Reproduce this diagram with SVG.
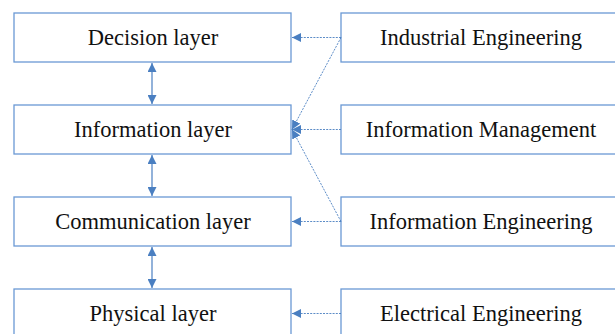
<svg xmlns="http://www.w3.org/2000/svg" width="615" height="334" viewBox="0 0 615 334">
  <style>
    .box { fill: #ffffff; stroke: #6a99d4; stroke-width: 1.3; }
    .label { font-family: "Liberation Serif", "Times New Roman", serif; font-size: 22.5px; fill: #111111; text-anchor: middle; }
    .solid { stroke: #4a7fc1; stroke-width: 1.2; fill: none; }
    .dotted { stroke: #4a7fc1; stroke-width: 0.9; stroke-dasharray: 2 1.2; fill: none; }
  </style>
  <defs>
    <marker id="head" viewBox="0 0 10 10" refX="10" refY="5" markerWidth="9" markerHeight="9" markerUnits="userSpaceOnUse" orient="auto-start-reverse">
      <path d="M0,0 L10,5 L0,10 z" fill="#4a7fc1"/>
    </marker>
  </defs>

  <rect width="615" height="334" fill="#ffffff"/>

  <!-- Layer stack -->
  <g id="decision-layer">
    <rect class="box" x="14" y="13" width="277" height="49"/>
    <text class="label" x="153" y="45">Decision layer</text>
  </g>
  <g id="information-layer">
    <rect class="box" x="14" y="105" width="277" height="49"/>
    <text class="label" x="153" y="137">Information layer</text>
  </g>
  <g id="communication-layer">
    <rect class="box" x="14" y="197" width="277" height="49"/>
    <text class="label" x="153" y="229">Communication layer</text>
  </g>
  <g id="physical-layer">
    <rect class="box" x="14" y="289" width="277" height="49"/>
    <text class="label" x="153" y="321">Physical layer</text>
  </g>

  <!-- Disciplines -->
  <g id="industrial-engineering">
    <rect class="box" x="341" y="13" width="280" height="49"/>
    <text class="label" x="481" y="45">Industrial Engineering</text>
  </g>
  <g id="information-management">
    <rect class="box" x="341" y="105" width="280" height="49"/>
    <text class="label" x="481" y="137">Information Management</text>
  </g>
  <g id="information-engineering">
    <rect class="box" x="341" y="197" width="280" height="49"/>
    <text class="label" x="481" y="229">Information Engineering</text>
  </g>
  <g id="electrical-engineering">
    <rect class="box" x="341" y="289" width="280" height="49"/>
    <text class="label" x="481" y="321">Electrical Engineering</text>
  </g>

  <!-- Connectors -->
  <g id="connectors">
    <line class="solid" x1="152" y1="63" x2="152" y2="104" marker-start="url(#head)" marker-end="url(#head)"/>
    <line class="solid" x1="152" y1="155" x2="152" y2="196" marker-start="url(#head)" marker-end="url(#head)"/>
    <line class="solid" x1="152" y1="247" x2="152" y2="288" marker-start="url(#head)" marker-end="url(#head)"/>

    <line class="dotted" x1="341" y1="37.5" x2="292" y2="37.5" marker-end="url(#head)"/>
    <line class="dotted" x1="341" y1="37.5" x2="292" y2="129.5" marker-end="url(#head)"/>
    <line class="dotted" x1="341" y1="129.5" x2="292" y2="129.5" marker-end="url(#head)"/>
    <line class="dotted" x1="341" y1="221.5" x2="292" y2="129.5" marker-end="url(#head)"/>
    <line class="dotted" x1="341" y1="221.5" x2="292" y2="221.5" marker-end="url(#head)"/>
    <line class="dotted" x1="341" y1="313.5" x2="292" y2="313.5" marker-end="url(#head)"/>
  </g>
</svg>
